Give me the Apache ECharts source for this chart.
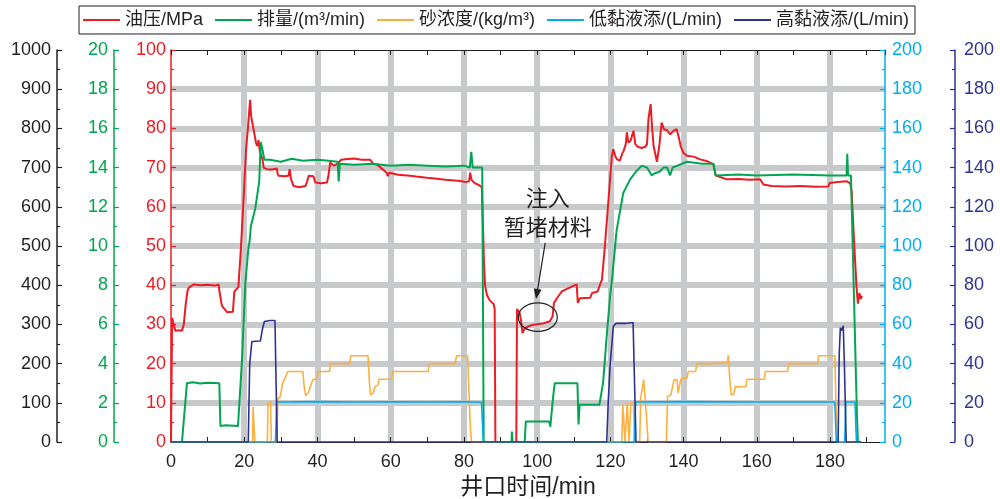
<!DOCTYPE html>
<html><head><meta charset="utf-8">
<script src="https://cdn.jsdelivr.net/npm/echarts@6/dist/echarts.min.js"></script>
<style>html,body{margin:0;padding:0;background:#fff}#c{width:1000px;height:499px}</style>
</head><body><div id="c"></div>
<script>
// ---- data (time in min) ----
const seriesNames = ['油压/MPa', '排量/(m³/min)', '砂浓度/(kg/m³)', '低黏液添/(L/min)', '高黏液添/(L/min)'];
const xTicks = [0, 20, 40, 60, 80, 100, 120, 140, 160, 180];

// 油压 MPa
const pressure = [[0,0],[0.25,0],[0.3,31.7],[0.6,30.5],[1.2,28.3],[2,28.5],[3,28.4],[3.5,30],[4.0,35],[4.5,38.5],[4.8,39.3],[6.2,40.2],[8,40.0],[10,40.1],[12,39.9],[13.0,40.2],[13.3,38],[13.9,34.8],[15.3,33.1],[16.9,33.2],[17.3,38.4],[18.4,39.5],
[19.0,48],[19.6,58],[20.5,74.7],[21.0,80],[21.2,82.4],[21.6,87.3],[21.9,83],[22.2,81.5],[22.5,80],[22.9,78],[23.2,76.4],[23.5,75.5],[23.9,77],[24.2,74.5],[24.6,75],[25.0,72],[25.3,70.0],[26.2,69.6],[27.5,69.5],[28.9,69.8],[29.1,68.5],[29.4,67.9],[31,67.8],[32.1,67.9],[32.4,69.6],[32.8,67],[33.5,65.3],[35,65.0],[36.7,65.3],[37.2,66.5],[37.6,67.9],[38.9,67.8],[39.4,66.2],[41,66.0],[42.6,66.2],[43.0,68],[43.5,71.3],[44.5,70.5],[45.5,71.0],[46.5,72.0],[47.6,72.1],[50,72.3],[52,72.0],[54.4,72.0],[55.2,71],[56.2,70.8],[57.5,69.8],[58.9,68.7],[59.2,67.8],[59.6,68.7],[62,68.2],[65.3,67.9],[67,67.7],[69.9,67.4],[72,67.2],[75,66.9],[79.0,66.6],
[80.5,66.3],[81.4,66.5],[81.7,68.7],[82.1,66.8],[83,66.0],[84,65.6],[84.9,65.0],[85.5,45],[85.8,39.7],[86.3,37.5],[87,36.2],[88.1,35.2],[88.4,34],[88.6,0],[94.3,0],
[94.5,33.9],[95.2,33],[95.6,31],[96.0,27.8],[96.5,28.8],[97.5,29.5],[99.0,29.9],[101.5,30.2],[103.5,30.8],[104.2,32],[104.6,35.5],[105.5,36.8],[106.7,38.4],[108,39.0],[110.8,40.2],[111.1,35.5],[111.7,36.7],[114.5,36.8],[115,38.0],[116.5,38.4],[117.2,40.2],[117.7,41.4],[118.5,50],[119.5,62],
[120.4,73.0],[120.8,74.7],[121.3,73],[121.8,72.1],[122.6,71.8],[123.2,73.5],[123.6,74.2],[124.2,76],[124.5,79.0],[124.9,76.4],[125.5,76.8],[126.3,79.4],[126.8,76.0],[127.5,75.3],[128.5,75.0],[129.5,75.3],[130.0,76],[130.4,82.4],[131.0,86.2],[131.4,80],[131.8,75.5],[132.7,71.5],[133.3,75],[134.0,81.5],[134.6,79.8],[135.4,79.6],[136.3,78.5],[137.3,79.4],[138.1,79.8],[138.6,78],[139.2,75.5],[139.9,73.8],[140.9,73.0],[142.7,72.8],[144.5,72.1],[146.5,71.6],[148.1,70.8],[148.8,68],[149.3,67.8],[151.8,67.0],[155,67.1],[158,66.9],[160.9,67.0],[161.8,65.7],[164,65.3],[168,65.2],[172,65.3],[176,65.1],[179.5,65.2],[179.9,66.1],[182,66.3],[184.6,66.5],[185.5,66],[185.9,64],[186.5,52],[187.2,39.9],[187.6,35.3],[188,38],[188.4,36.5],[188.7,37.3]];

// 排量 m3/min
const flowRate = [[0,0],[3.0,0],[4.35,3.0],[6,3.05],[8,2.98],[10,3.02],[13.2,3.0],[13.5,0.82],[15,0.85],[18.3,0.82],[19.4,4.2],[20.3,8.1],[21.1,9.8],[21.5,10.3],[21.8,11.0],[23,11.9],[23.4,12.4],[24.1,13.3],[24.5,15.3],[24.9,15.0],[25.5,14.4],[27,14.4],[30,14.3],[33,14.45],[36,14.35],[40,14.4],[43,14.35],[45.5,14.3],[45.8,13.3],[46.1,14.2],[50,14.15],[55,14.2],[60,14.1],[65,14.15],[70,14.1],[75,14.05],[80,14.1],[81.6,14.0],[82,14.8],[82.4,14.0],[85.0,14.0],[85.4,0],
[93,0],[93.1,0.53],[93.3,0],[96.6,0],[96.9,1.04],[103.3,1.04],[103.6,0.78],[104.3,2.2],[104.8,3.0],[111,3.0],[111.3,0.9],[111.6,1.9],[117,1.9],[118,3.0],[119,5.4],[119.9,7.4],[120.5,8.4],[121.7,10.8],[123.5,12.7],[125.4,13.4],[127,13.8],[128.6,14.1],[130,14.0],[131.3,13.6],[132,13.7],[133.5,13.8],[134.5,14.0],[135.5,14.0],[136.3,13.6],[137,14.0],[140.9,14.3],[145,14.2],[148.2,14.2],[148.7,13.6],[155,13.65],[160,13.6],[170,13.65],[180,13.6],[184.5,13.6],[184.7,14.7],[184.9,13.6],[185.7,13.6],[187.3,1.6],[187.6,0],[188.5,0]];

// 砂浓度 kg/m3
const sandConc = [[0,0],[22.3,0],[22.4,90],[22.7,90],[22.9,0],[26.3,0],[26.5,100],[27.2,103],[27.4,0],[28.9,0],[29.2,111],[29.8,115],[30.5,151],[31,160],[31.9,180],[36,180],[36.4,140],[36.8,118],[37.5,125],[38,140],[38.5,145],[38.8,160],[39.8,160],[40.2,180],[43.3,180],[43.6,200],[48.8,200],[49.1,220],[53.8,220],[54.2,150],[54.5,120],[55.2,125],[55.7,141],[56.5,145],[56.8,160],[60.2,160],[60.6,180],[70.2,180],[70.6,200],[77.6,200],[78,220],[81,220],[81.4,120],[81.8,30],[82.1,0],
[123.1,0],[123.4,95],[123.8,95],[124,0],[124.4,0],[124.6,100],[124.9,100],[125.1,0],[125.4,0],[125.6,100],[126.3,100],[126.6,0],[128,0],[128.3,113],[128.8,118],[129.1,159],[129.5,159],[129.9,60],[130.3,0],[135.3,0],[135.6,116],[136.5,120],[137,125],[137.4,159],[138.2,159],[138.5,125],[138.8,120],[139.2,159],[139.8,163],[140.9,163],[141.3,180],[143.3,180],[143.6,200],[147.5,200],[147.8,202],[152,202],[152.2,222],[152.5,222],[152.7,150],[153,120],[153.7,122],[154.1,141],[157,141],[157.3,160],[162,160],[162.3,180],[168.4,180],[168.7,200],[176.6,200],[176.9,220],[181.3,220],[181.6,100],[181.9,0],[188.5,0]];

// 低黏液添 L/min
const lowVisc = [[0,0],[28.5,0],[28.9,20.6],[30,20.4],[40,20.6],[50,20.4],[60,20.5],[70,20.4],[80,20.5],[84.8,20.3],[85.3,0],[126.5,0],[126.9,20.4],[140,20.6],[160,20.4],[181.3,20.4],[181.7,0],[184,0],[184.3,20.4],[186.8,20.4],[187.2,0],[188.5,0]];

// 高黏液添 L/min
const highVisc = [[0,0],[21.1,0],[21.5,40],[22.1,51.3],[24.4,51.5],[24.9,57],[25.5,61.5],[27,62],[28.4,62],[28.7,30],[29,0],[119,0],[119.4,20],[119.9,38.5],[120.4,50],[120.8,59],[121.5,60.5],[124,60.5],[126.2,61],[126.6,30],[127,0],[182.2,0],[182.5,45],[182.8,58.3],[183.1,56.8],[183.6,59.3],[183.9,40],[184.4,0],[188.5,0]];

// annotation anchors (data coords on pressure axis)
const noteText = '注入\n暂堵材料';
const notePos = [102.9, 58.7];
const arrowFrom = [102.2, 50.8];
const arrowTo = [99.7, 36.5];
const ellipseBox = [[94.85, 35.5], [105.5, 28.2]];

// ---- styles ----
const FONT = "'Liberation Sans', Arial, 'Noto Sans CJK SC', sans-serif";
const INK = '#231f20';
const C = {red:'#ed1c24', green:'#00a651', orange:'#fbb040', cyan:'#00aeef', navy:'#2e3192'};
const GRAY = '#c8c9cb';

function yAx(color, pos, offset, max, interval, margin, split) {
  return {
    type:'value', position:pos, offset:offset, min:0, max:max, interval:interval,
    axisLine:{show:true, onZero:false, lineStyle:{color:color, width:1.5}},
    axisTick:{show:true, inside:true, length:5, lineStyle:{color:color, width:1.2}},
    minorTick:{show:true, splitNumber:2, length:3, lineStyle:{color:color, width:1.2}},
    axisLabel:{color:color, fontSize:18, fontFamily:FONT, margin:margin, formatter:v => String(v)},
    splitLine: split ? {show:true, showMinLine:false, showMaxLine:false, lineStyle:{color:GRAY, width:6}} : {show:false}
  };
}

const chart = echarts.init(document.getElementById('c'), null, {renderer:'canvas'});
const option = {
  animation:false,
  backgroundColor:'#fff',
  textStyle:{fontFamily:FONT},
  grid:{left:171, right:115, top:50, bottom:57, containLabel:false, outerBoundsMode:'none'},
  legend:{
    left:79, top:6, padding:[5,6,5,4], itemGap:12, itemWidth:37, itemHeight:2, icon:'rect',
    borderColor:INK, borderWidth:1, borderRadius:0,
    textStyle:{fontSize:18, color:INK, fontFamily:FONT},
    data:seriesNames
  },
  xAxis:[
    {type:'value', position:'bottom', min:0, max:195, interval:10,
     axisLine:{show:true, onZero:false, lineStyle:{color:INK, width:1.2}},
     axisTick:{show:true, inside:true, length:5, lineStyle:{color:INK}},
     axisLabel:{fontSize:18, color:INK, fontFamily:FONT, margin:11, showMaxLabel:false,
       formatter:v => xTicks.indexOf(v) >= 0 ? String(v) : ''},
     splitLine:{show:false},
     name:'井口时间/min', nameLocation:'middle', nameGap:33,
     nameTextStyle:{fontSize:23, color:INK, fontFamily:FONT}},
    {type:'value', position:'top', min:0, max:195, interval:10,
     axisLine:{show:true, onZero:false, lineStyle:{color:INK, width:1.2}},
     axisTick:{show:true, inside:true, length:5, lineStyle:{color:INK}},
     axisLabel:{show:false}, splitLine:{show:false}},
    {type:'value', position:'bottom', min:0, max:195, interval:20,
     axisLine:{show:false}, axisTick:{show:false}, axisLabel:{show:false},
     splitLine:{show:true, showMinLine:false, showMaxLine:false, lineStyle:{color:GRAY, width:6}}}
  ],
  yAxis:[
    yAx(C.red, 'left', 0, 100, 10, 5, true),
    yAx(C.green, 'left', 57, 20, 2, 6, false),
    yAx(INK, 'left', 114, 1000, 100, 6, false),
    yAx(C.cyan, 'right', 0, 200, 20, 7, false),
    yAx(C.navy, 'right', 70, 200, 20, 9, false)
  ],
  series:[
    {name:seriesNames[0], type:'line', yAxisIndex:0, data:pressure, showSymbol:false, symbol:'none', lineStyle:{color:C.red, width:2}, itemStyle:{color:C.red}, z:3},
    {name:seriesNames[1], type:'line', yAxisIndex:1, data:flowRate, showSymbol:false, symbol:'none', lineStyle:{color:C.green, width:2}, itemStyle:{color:C.green}, z:4},
    {name:seriesNames[2], type:'line', yAxisIndex:2, data:sandConc, showSymbol:false, symbol:'none', lineStyle:{color:C.orange, width:1.6}, itemStyle:{color:C.orange}, z:5},
    {name:seriesNames[3], type:'line', yAxisIndex:3, data:lowVisc, showSymbol:false, symbol:'none', lineStyle:{color:C.cyan, width:1.6}, itemStyle:{color:C.cyan}, z:6},
    {name:seriesNames[4], type:'line', yAxisIndex:4, data:highVisc, showSymbol:false, symbol:'none', lineStyle:{color:C.navy, width:1.6}, itemStyle:{color:C.navy}, z:7}
  ]
};
chart.setOption(option);

// annotation graphics placed through the axes
const px = p => chart.convertToPixel({xAxisIndex:0, yAxisIndex:0}, p);
const tP = px(notePos), a0 = px(arrowFrom), a1 = px(arrowTo);
const e0 = px(ellipseBox[0]), e1 = px(ellipseBox[1]);
const dx = a1[0]-a0[0], dy = a1[1]-a0[1], L = Math.hypot(dx, dy), ux = dx/L, uy = dy/L;
const hl = 10, hw = 4;
const base = [a1[0]-ux*hl, a1[1]-uy*hl];
chart.setOption({graphic:[
  {type:'text', z:100, style:{text:noteText, x:tP[0], y:tP[1], align:'center', verticalAlign:'middle',
    font:"22px 'Noto Sans CJK SC', sans-serif", fill:INK, lineHeight:29}},
  {type:'line', z:100, shape:{x1:a0[0], y1:a0[1], x2:base[0], y2:base[1]}, style:{stroke:INK, lineWidth:1.2}},
  {type:'polygon', z:100, shape:{points:[a1, [base[0]-uy*hw, base[1]+ux*hw], [base[0]+uy*hw, base[1]-ux*hw]]}, style:{fill:INK}},
  {type:'ellipse', z:100, shape:{cx:(e0[0]+e1[0])/2, cy:(e0[1]+e1[1])/2, rx:Math.abs(e1[0]-e0[0])/2, ry:Math.abs(e1[1]-e0[1])/2},
    style:{stroke:INK, fill:null, lineWidth:1.2}}
]});
</script></body></html>
